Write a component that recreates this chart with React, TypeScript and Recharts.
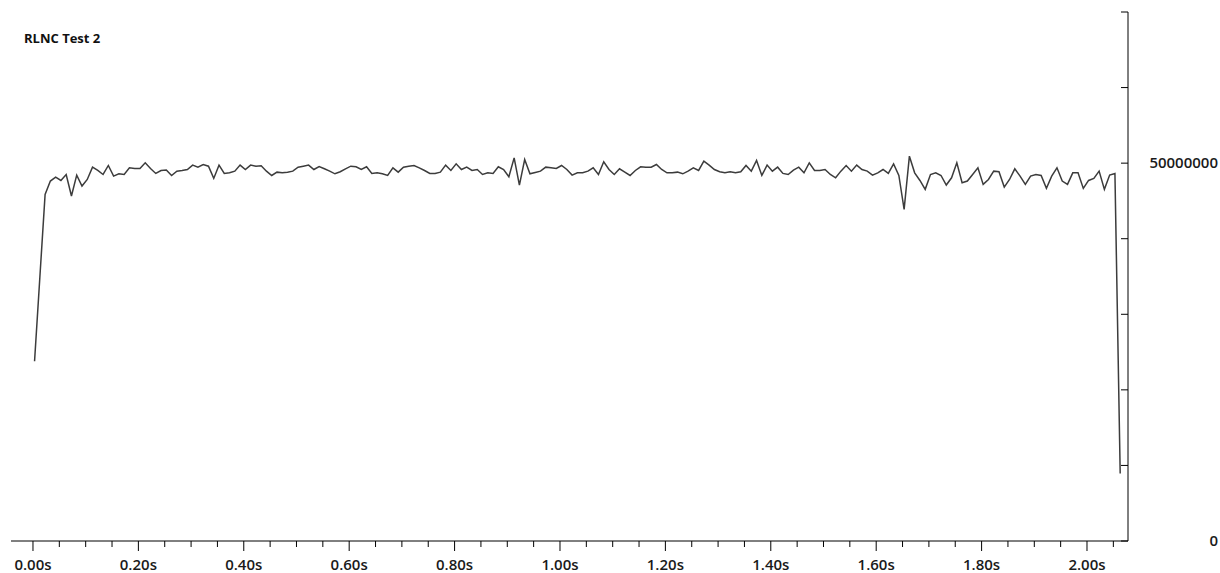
import React from "react"
import { LineChart, Line, XAxis, YAxis } from "recharts"

// throughput samples, in millions, one every 10 ms
const throughputM: number[] = [
  23.79, 34.83, 45.87, 47.63, 48.15, 47.71, 48.5, 45.65, 48.42, 46.97,
  47.84, 49.47, 49.03, 48.5, 49.69, 48.28, 48.59, 48.5, 49.38, 49.3,
  49.3, 50.04, 49.3, 48.64, 49.03, 49.08, 48.37, 48.94, 49.03, 49.16,
  49.74, 49.47, 49.82, 49.6, 47.98, 49.74, 48.64, 48.72, 48.94, 49.74,
  49.16, 49.74, 49.6, 49.65, 48.94, 48.37, 48.81, 48.72, 48.81, 48.94,
  49.47, 49.6, 49.74, 49.16, 49.55, 49.25, 48.94, 48.59, 48.86, 49.25,
  49.6, 49.52, 49.16, 49.52, 48.64, 48.72, 48.59, 48.37, 49.38, 48.81,
  49.47, 49.6, 49.69, 49.38, 49.03, 48.64, 48.64, 48.81, 49.74, 49.03,
  49.91, 49.16, 49.47, 49.03, 49.16, 48.5, 48.72, 48.64, 49.52, 49.16,
  48.2, 50.7, 47.1, 50.48, 48.59, 48.77, 48.94, 49.47, 49.38, 49.3,
  49.69, 49.16, 48.42, 48.72, 48.72, 48.94, 49.38, 48.5, 50.18, 49.16,
  48.5, 49.25, 48.81, 48.37, 49.03, 49.52, 49.47, 49.47, 49.82, 49.16,
  48.72, 48.72, 48.81, 48.59, 48.94, 49.38, 49.03, 50.26, 49.74, 49.16,
  48.86, 48.72, 48.86, 48.72, 48.86, 49.69, 48.94, 50.35, 48.37, 49.74,
  48.94, 49.47, 48.64, 48.5, 49.08, 49.47, 48.72, 50.04, 49.03, 49.03,
  49.16, 48.5, 48.06, 48.94, 49.69, 48.94, 49.74, 49.16, 48.94, 48.42,
  48.72, 49.16, 48.64, 49.91, 48.37, 43.89, 50.92, 48.72, 47.71, 46.53,
  48.5, 48.72, 48.37, 47.1, 48.06, 50.04, 47.41, 47.63, 48.5, 49.38,
  47.19, 47.84, 48.94, 48.86, 46.83, 47.84, 49.25, 48.28, 47.19, 48.28,
  48.5, 48.37, 46.66, 48.28, 49.38, 47.63, 47.19, 48.72, 48.72, 46.66,
  47.71, 47.98, 48.94, 46.53, 48.42, 48.64, 8.93,
]
const SAMPLE_START = 0.003
const SAMPLE_STEP = 0.01

const majorTicks = [0, 0.2, 0.4, 0.6, 0.8, 1.0, 1.2, 1.4, 1.6, 1.8, 2.0]
const minorTicks = [
  0.05, 0.1, 0.15, 0.25, 0.3, 0.35, 0.45, 0.5, 0.55, 0.65, 0.7, 0.75,
  0.85, 0.9, 0.95, 1.05, 1.1, 1.15, 1.25, 1.3, 1.35, 1.45, 1.5, 1.55,
  1.65, 1.7, 1.75, 1.85, 1.9, 1.95, 2.05,
]
const yTicks = [0, 10000000, 20000000, 30000000, 40000000, 50000000, 60000000, 70000000]
const yLabelled = [0, 50000000]

const data = throughputM.map((v, i) => ({
  t: SAMPLE_START + i * SAMPLE_STEP,
  v: v * 1e6,
}))

const font = "'Open Sans', 'DejaVu Sans', sans-serif"

const XTick = (props: any) => {
  const { x, y, payload } = props
  const isMajor = majorTicks.some((m) => Math.abs(m - payload.value) < 1e-6)
  return (
    <g>
      <line x1={x} x2={x} y1={y} y2={y + (isMajor ? 10 : 6)} stroke="#000" />
      {isMajor && (
        <text x={x} y={y + 29} textAnchor="middle" fontSize={15} fontWeight={600} fontFamily={font} fill="#1a1a1a">
          {payload.value.toFixed(2) + "s"}
        </text>
      )}
    </g>
  )
}

const YTick = (props: any) => {
  const { x, y, payload } = props
  return (
    <g>
      <line x1={x - 7} x2={x} y1={y} y2={y} stroke="#000" />
      {yLabelled.includes(payload.value) && (
        <text x={1218} y={y + 5} textAnchor="end" fontSize={15} fontWeight={600} fontFamily={font} fill="#1a1a1a">
          {payload.value}
        </text>
      )}
    </g>
  )
}

export default function App() {
  return (
    <div style={{ position: "absolute", left: 0, top: 0, width: 1220, height: 573, background: "#fff" }}>
      <div
        style={{
          position: "absolute",
          left: 24,
          top: 30,
          fontSize: 13,
          lineHeight: "16px",
          fontWeight: 700,
          fontFamily: font,
          color: "#111",
        }}
      >
        RLNC Test 2
      </div>
      <LineChart width={1220} height={573} data={data} margin={{ top: 12, right: 0, bottom: 0, left: 11 }}>
        <XAxis
          dataKey="t"
          type="number"
          domain={[-0.0417, 2.0778]}
          allowDataOverflow
          ticks={[...majorTicks, ...minorTicks].sort((a, b) => a - b)}
          interval={0}
          height={32}
          tickSize={0}
          tickMargin={0}
          tickLine={false}
          axisLine={{ stroke: "#000" }}
          tick={<XTick />}
        />
        <YAxis
          orientation="right"
          type="number"
          domain={[0, 70000000]}
          ticks={yTicks}
          interval={0}
          width={92}
          tickSize={0}
          tickMargin={0}
          tickLine={false}
          axisLine={{ stroke: "#000" }}
          tick={<YTick />}
        />
        <Line
          type="linear"
          dataKey="v"
          stroke="#3c3c3c"
          strokeWidth={1.5}
          dot={false}
          isAnimationActive={false}
        />
      </LineChart>
    </div>
  )
}
